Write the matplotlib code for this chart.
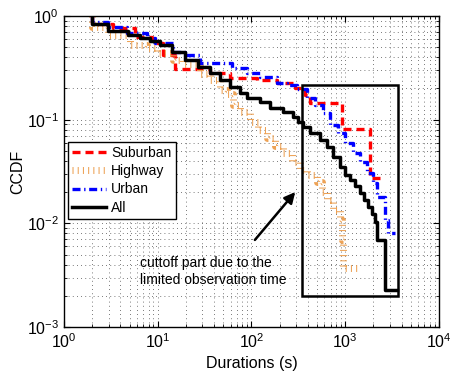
import matplotlib
matplotlib.use("Agg")
import matplotlib.pyplot as plt
from matplotlib.patches import Rectangle

plt.rcParams['font.family'] = ['Liberation Sans', 'DejaVu Sans']
plt.rcParams['mathtext.fontset'] = 'custom'
plt.rcParams['mathtext.rm'] = 'Liberation Sans'
plt.rcParams['mathtext.it'] = 'Liberation Sans:italic'
plt.rcParams['mathtext.bf'] = 'Liberation Sans:bold'

# ---- data ----
sub_x = [2, 2, 3.3, 5.7, 8.7, 11.4, 15.3, 36, 59, 114, 187, 291, 370, 421, 923, 1837, 2348]
sub_y = [1.0, 0.84, 0.766, 0.63, 0.55, 0.42, 0.308, 0.282, 0.252, 0.241, 0.226, 0.202, 0.173,
         0.145, 0.0814, 0.0274, 0.0274]

hwy_x = [2, 2, 2.95, 5.1, 7.7, 9.8, 14.5, 18.6, 28, 36, 46, 55, 63, 75, 96, 117, 146, 178, 217,
         270, 329, 391, 499, 565, 639, 740, 879, 923, 945, 1370]
hwy_y = [1.0, 0.783, 0.656, 0.525, 0.49, 0.44, 0.377, 0.345, 0.276, 0.241, 0.193, 0.177, 0.139,
         0.119, 0.095, 0.08, 0.0664, 0.056, 0.048, 0.039, 0.033, 0.029, 0.025, 0.020, 0.0168,
         0.0134, 0.0108, 0.0069, 0.0037, 0.0037]

urb_x = [2, 2, 2.95, 4.7, 7.7, 9.3, 14.5, 19.5, 28, 61.6, 89.6, 123, 187, 238, 304, 391, 475, 580,
         690, 835, 1000, 1205, 1440, 1700, 1970, 2180, 2650, 2850, 3400]
urb_y = [1.0, 0.875, 0.78, 0.686, 0.614, 0.55, 0.45, 0.42, 0.352, 0.315, 0.282, 0.258, 0.226,
         0.216, 0.198, 0.162, 0.139, 0.116, 0.089, 0.0744, 0.0595, 0.0477, 0.0391, 0.0306,
         0.0245, 0.018, 0.0108, 0.0081, 0.0081]

all_x = [2, 2, 2.95, 4.8, 6.5, 8.3, 10.6, 14.1, 19.5, 27, 36, 46, 59, 75, 90, 123, 157, 217, 277,
         313, 354, 421, 538, 639, 740, 879, 993, 1125, 1270, 1436, 1590, 1750, 1920, 2076, 2180,
         2650, 3560]
all_y = [1.0, 0.837, 0.717, 0.656, 0.614, 0.574, 0.525, 0.45, 0.377, 0.32, 0.282, 0.241, 0.207,
         0.181, 0.162, 0.148, 0.13, 0.119, 0.106, 0.095, 0.085, 0.0744, 0.0637, 0.0546, 0.0437,
         0.035, 0.0292, 0.0263, 0.0229, 0.0197, 0.0168, 0.0144, 0.0123, 0.0103, 0.0069, 0.00228,
         0.00228]

labels = ["Suburban", "Highway", "Urban", "All"]

# cutoff box and annotation
box_x = (346, 3655)
box_y = (0.002, 0.216)
arrow_tail = (104, 0.0066)
arrow_head = (306, 0.021)
note_pos = (6.4, 0.00345)
note_text = "cuttoff part due to the\nlimited observation time"

# ---- figure ----
fig = plt.figure(figsize=(4.52, 3.78), dpi=100)
ax = fig.add_axes([64/452, 1 - 327/378, 375/452, 311/378])
ax.set_xscale('log')
ax.set_yscale('log')

ax.step(sub_x, sub_y, where='post', color='#ff0000', lw=2.4,
        linestyle=(0, (2.4, 1.5)), label=labels[0])
ax.step(hwy_x, hwy_y, where='post', color='#eda255', lw=5.0,
        linestyle=(0, (0.15, 0.6)), dash_capstyle='butt', label=labels[1])
ax.step(urb_x, urb_y, where='post', color='#0000ff', lw=2.4,
        linestyle=(0, (2.4, 1.1, 0.4, 1.1)), label=labels[2])
ax.step(all_x, all_y, where='post', color='black', lw=2.5, label=labels[3])

ax.set_xlim(1, 1e4)
ax.set_ylim(1e-3, 1)

ax.grid(True, which='both', linestyle=(0, (1, 4)), color='0.3', lw=0.6)
ax.tick_params(which='both', direction='in', top=True, right=True, labelsize=11.5)
ax.tick_params(which='major', length=4)
ax.tick_params(which='minor', length=2)
for s in ax.spines.values():
    s.set_linewidth(1.0)

ax.set_xlabel("Durations (s)", fontsize=11.5, labelpad=4)
ax.set_ylabel("CCDF", fontsize=11.5, labelpad=1)

ax.add_patch(Rectangle((box_x[0], box_y[0]), box_x[1] - box_x[0], box_y[1] - box_y[0],
                       fill=False, edgecolor='black', lw=1.8, zorder=5))
ax.annotate("", xy=arrow_head, xytext=arrow_tail,
            arrowprops=dict(arrowstyle='-|>', color='black', lw=1.8, mutation_scale=16))
ax.text(note_pos[0], note_pos[1], note_text, fontsize=10, ha='left', va='center',
        linespacing=1.3)

leg = ax.legend(loc='upper left', bbox_to_anchor=(0.011, 0.595), borderaxespad=0,
                fancybox=False, framealpha=1, edgecolor='black', fontsize=10,
                handlelength=2.4, handletextpad=0.4, labelspacing=0.3, borderpad=0.3)
leg.get_frame().set_linewidth(1.0)

fig.savefig("out.png", dpi=100)
